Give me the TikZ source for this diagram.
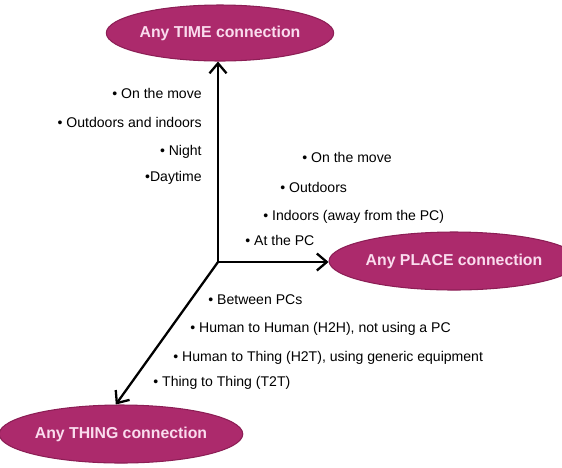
\documentclass[tikz,border=0pt]{standalone}
\usepackage{fontspec}
\setmainfont{Liberation Sans}
\usepackage{xcolor}
\usepackage{tikz}
\usetikzlibrary{shapes.geometric,arrows.meta}

\definecolor{anyfill}{RGB}{172,42,108}
\definecolor{anyedge}{RGB}{140,30,85}
\definecolor{anytext}{RGB}{250,220,238}

\begin{document}
\begin{tikzpicture}[
    conn/.style={draw=anyedge, line width=0.6pt, fill=anyfill, ellipse, inner sep=0pt,
                 font=\fontsize{9}{10}\selectfont\bfseries, text=anytext},
    item/.style={inner sep=0pt, font=\fontsize{8}{9}\selectfont},
    axisarrow/.style={line width=1.3pt, -{Straight Barb[length=2mm,width=3.4mm]}}
]
                            % Frame of the picture
                            \useasboundingbox (-4.36,-4.10) rectangle (6.88,5.24);

                            % Origin of the three axes
                            \coordinate (o) at (0,0);

                            % The three connection ellipses
                            \node[conn, minimum width=4.4cm, minimum height=1.12cm] (time) at (0.04,4.58) {Any TIME connection};
                            \node[conn, minimum width=4.32cm, minimum height=1.16cm] (place) at (4.72,0.02) {Any PLACE connection};
                            \node[conn, minimum width=4.44cm, minimum height=1.16cm] (thing) at (-1.94,-3.44) {Any THING connection};

                            % Axes from the origin
                            \draw[axisarrow] (o) -- (o |- time.south);
                            \draw[axisarrow] (o) -- (place.west |- o);
                            \draw[axisarrow] (o) -- (thing.100);

                            % Items along the TIME axis
                            \node[item, anchor=east] (time1) at (-0.32,3.38) {• On the move};
                            \node[item, anchor=east] (time2) at (-0.32,2.80) {• Outdoors and indoors};
                            \node[item, anchor=east] (time3) at (-0.32,2.20) {• Night};
                            \node[item, anchor=east] (time4) at (-0.32,1.68) {•Daytime};

                            % Items along the PLACE axis
                            \node[item, anchor=west] (place1) at (1.68,2.10) {• On the move};
                            \node[item, anchor=west] (place2) at (1.24,1.50) {• Outdoors};
                            \node[item, anchor=west] (place3) at (0.90,0.90) {• Indoors (away from the PC)};
                            \node[item, anchor=west] (place4) at (0.54,0.44) {• At the PC};

                            % Items along the THING axis
                            \node[item, anchor=west] (thing1) at (-0.20,-0.76) {• Between PCs};
                            \node[item, anchor=west] (thing2) at (-0.56,-1.34) {• Human to Human (H2H), not using a PC};
                            \node[item, anchor=west] (thing3) at (-0.90,-1.92) {• Human to Thing (H2T), using generic equipment};
                            \node[item, anchor=west] (thing4) at (-1.30,-2.42) {• Thing to Thing (T2T)};

\end{tikzpicture}
\end{document}
